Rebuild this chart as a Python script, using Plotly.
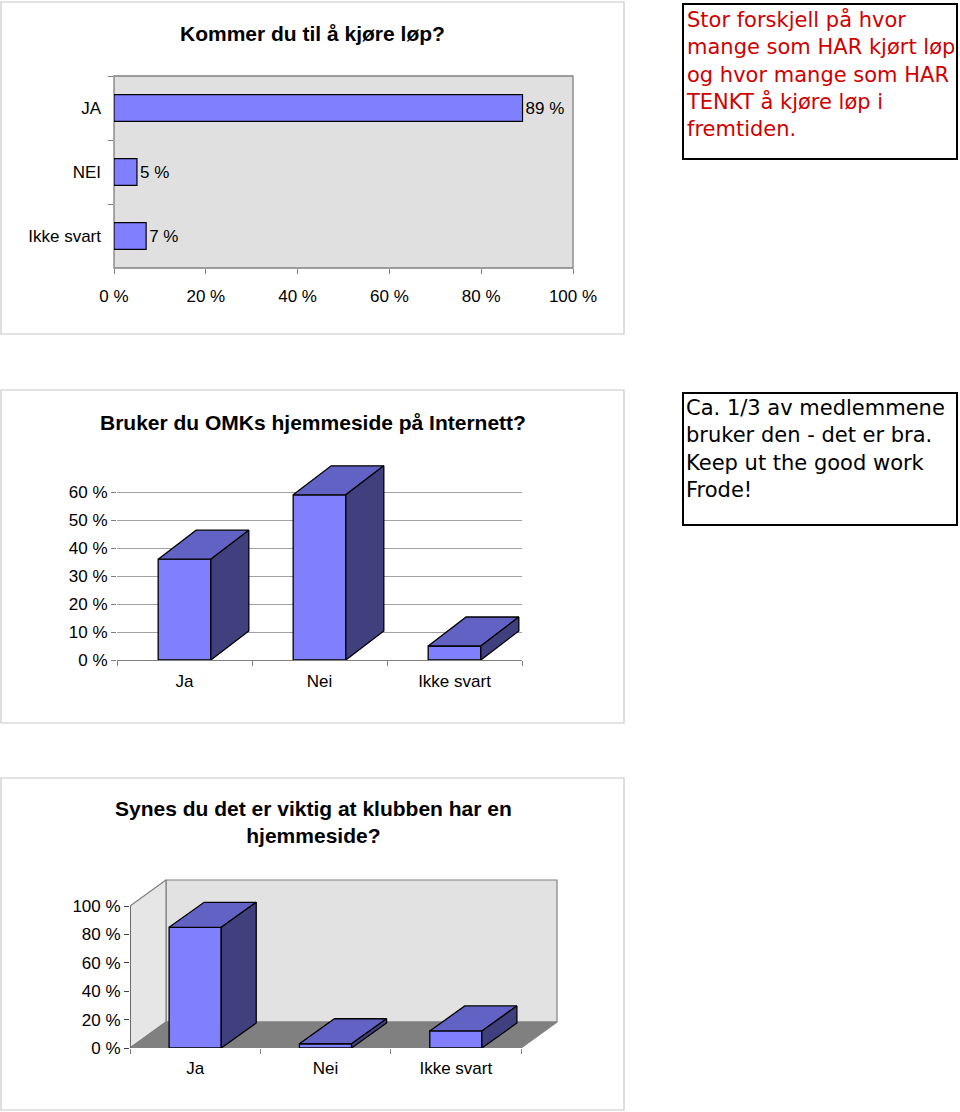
import plotly.graph_objects as go

# ---------------- data ----------------
q1_title = "Kommer du til å kjøre løp?"
q1_categories = ["JA", "NEI", "Ikke svart"]
q1_values = [89, 5, 7]

q2_title = "Bruker du OMKs hjemmeside på Internett?"
q2_categories = ["Ja", "Nei", "Ikke svart"]
q2_values = [36, 59, 5]

q3_title = "Synes du det er viktig at klubben har en<br>hjemmeside?"
q3_categories = ["Ja", "Nei", "Ikke svart"]
q3_values = [85, 3, 12]

pct_ticks_q1 = [0, 20, 40, 60, 80, 100]
pct_ticks_q2 = [0, 10, 20, 30, 40, 50, 60]
pct_ticks_q3 = [0, 20, 40, 60, 80, 100]

note1 = ("Stor forskjell på hvor<br>mange som HAR kjørt løp<br>og hvor mange som HAR<br>"
         "TENKT å kjøre løp i<br>fremtiden.")
note2 = "Ca. 1/3 av medlemmene<br>bruker den - det er bra.<br>Keep ut the good work<br>Frode!"

# ---------------- style ----------------
W, H = 960, 1112
FONT = "Liberation Sans, Arial, sans-serif"
NOTE_FONT = "DejaVu Sans, Verdana, sans-serif"
FRONT = "#8080FF"
TOP = "#6262C4"
SIDE = "#40407F"
EDGE = "#000000"


def px(x):
    return x / W


def py(y):
    return 1 - y / H


def pct_text(v):
    return [f"{t} %" for t in v]


fig = go.Figure()

# ---------- chart 1 : horizontal bars ----------
fig.add_trace(go.Bar(
    x=q1_values, y=q1_categories, orientation="h",
    marker=dict(color=FRONT, line=dict(color=EDGE, width=1.2)),
    width=0.42,
    text=[f"{v} %" for v in q1_values], textposition="outside",
    textfont=dict(family=FONT, size=17, color="black"),
    cliponaxis=False, xaxis="x", yaxis="y", showlegend=False, hoverinfo="skip",
))


# ---------- 3D bar helper ----------
def add_3d_bars(values, xa, ya, half_w, ddx, ddy):
    for i, v in enumerate(values):
        c = i + 0.5
        l, r = c - half_w, c + half_w
        faces = [
            ([l, r, r, l, l], [0, 0, v, v, 0], FRONT),
            ([l, r, r + ddx, l + ddx, l], [v, v, v + ddy, v + ddy, v], TOP),
            ([r, r + ddx, r + ddx, r, r], [0, ddy, v + ddy, v, 0], SIDE),
        ]
        for fx, fy, col in faces:
            fig.add_trace(go.Scatter(
                x=fx, y=fy, mode="lines", fill="toself", fillcolor=col,
                line=dict(color=EDGE, width=1.3), xaxis=xa, yaxis=ya,
                showlegend=False, hoverinfo="skip",
            ))


# ---------- chart 2 ----------
c2_px_cat = (522 - 117) / 3
c2_px_pct = 2.8
add_3d_bars(q2_values, "x2", "y2", 0.195, 38 / c2_px_cat, 29 / c2_px_pct)

# ---------- chart 3 : walls + bars ----------
c3_px_cat = (521 - 130) / 3
c3_px_pct = 1.42
wdx, wdy = 36 / c3_px_cat, 26 / c3_px_pct
n3 = len(q3_values)
top3 = pct_ticks_q3[-1]
walls = [
    ([wdx, n3 + wdx, n3 + wdx, wdx, wdx], [wdy, wdy, top3 + wdy, top3 + wdy, wdy], "#E2E2E2", "#808080"),
    ([0, wdx, wdx, 0, 0], [0, wdy, top3 + wdy, top3, 0], "#E6E6E6", "#808080"),
    ([0, n3, n3 + wdx, wdx, 0], [0, 0, wdy, wdy, 0], "#808080", "#808080"),
]
for fx, fy, col, lc in walls:
    fig.add_trace(go.Scatter(
        x=fx, y=fy, mode="lines", fill="toself", fillcolor=col,
        line=dict(color=lc, width=1.2), xaxis="x3", yaxis="y3",
        showlegend=False, hoverinfo="skip",
    ))
# y axis line of chart 3
fig.add_trace(go.Scatter(
    x=[0, 0], y=[0, top3], mode="lines", line=dict(color="#404040", width=1.2),
    xaxis="x3", yaxis="y3", showlegend=False, hoverinfo="skip",
))
add_3d_bars(q3_values, "x3", "y3", 0.2, 35 / c3_px_cat, 25 / c3_px_pct)

# ---------------- layout ----------------
tickfont = dict(family=FONT, size=17, color="black")
shapes = []
for (x0, y0, x1, y1) in [(1, 2, 624, 334), (1, 390, 624, 723), (1, 778, 624, 1110)]:
    shapes.append(dict(type="rect", xref="paper", yref="paper",
                       x0=px(x0), x1=px(x1), y0=py(y1), y1=py(y0),
                       line=dict(color="#C8C8C8", width=1.2), fillcolor="rgba(0,0,0,0)",
                       layer="below"))
# chart 1 plot area background
shapes.append(dict(type="rect", xref="x domain", yref="y domain", x0=0, x1=1, y0=0, y1=1,
                   fillcolor="#E0E0E0", line=dict(color="#808080", width=1.3), layer="below"))

annotations = [
    dict(text=f"<b>{q1_title}</b>", x=px(312), y=py(33), xref="paper", yref="paper",
         xanchor="center", yanchor="middle",
         showarrow=False, font=dict(family=FONT, size=21, color="black")),
    dict(text=f"<b>{q2_title}</b>", x=px(313), y=py(423), xref="paper", yref="paper",
         xanchor="center", yanchor="middle",
         showarrow=False, font=dict(family=FONT, size=21, color="black")),
    dict(text=f"<b>{q3_title}</b>", x=px(313), y=py(822), xref="paper", yref="paper",
         xanchor="center", yanchor="middle",
         showarrow=False, font=dict(family=FONT, size=21, color="black")),
    dict(text=note1, x=px(682), y=py(3), xref="paper", yref="paper", xanchor="left", yanchor="top",
         showarrow=False, align="left", valign="top", width=268, height=149,
         bordercolor="black", borderwidth=2, borderpad=2, bgcolor="white",
         font=dict(family=NOTE_FONT, size=21, color="#D00000")),
    dict(text=note2, x=px(682), y=py(392), xref="paper", yref="paper", xanchor="left", yanchor="top",
         showarrow=False, align="left", valign="top", width=268, height=126,
         bordercolor="black", borderwidth=2, borderpad=2, bgcolor="white",
         font=dict(family=NOTE_FONT, size=21, color="black")),
]

common = dict(automargin=False, fixedrange=True, zeroline=False)
fig.update_layout(
    width=W, height=H, margin=dict(l=0, r=0, t=0, b=0, autoexpand=False),
    paper_bgcolor="white", plot_bgcolor="rgba(0,0,0,0)",
    showlegend=False, shapes=shapes, annotations=annotations,
    font=dict(family=FONT, size=17, color="black"),
    xaxis=dict(domain=[px(114), px(573)], range=[0, 100], anchor="y",
               tickvals=pct_ticks_q1, ticktext=pct_text(pct_ticks_q1),
               ticks="outside", ticklen=5, tickcolor="#808080", showgrid=False,
               showline=False, tickfont=tickfont, ticklabelstandoff=8, **common),
    yaxis=dict(domain=[py(268), py(76)], anchor="x", type="category",
               categoryorder="array", categoryarray=q1_categories, autorange="reversed",
               tickson="boundaries", ticks="outside", ticklen=5, tickcolor="#808080",
               showgrid=False, showline=False, tickfont=tickfont,
               ticklabelstandoff=12, **common),
    xaxis2=dict(domain=[px(117), px(522)], range=[0, 3], anchor="y2",
                tickvals=[0.5, 1.5, 2.5], ticktext=q2_categories, ticks="outside", ticklen=0,
                minor=dict(tickvals=[0, 1, 2, 3], ticks="outside", ticklen=5, tickcolor="#808080"),
                showline=True, linecolor="#808080", linewidth=1.2, showgrid=False,
                tickfont=tickfont, ticklabelstandoff=5, **common),
    yaxis2=dict(domain=[py(660), py(660 - 70 * c2_px_pct)], range=[0, 70], anchor="x2",
                tickvals=pct_ticks_q2, ticktext=pct_text(pct_ticks_q2),
                ticks="outside", ticklen=5, tickcolor="#808080",
                showgrid=True, gridcolor="#A0A0A0", gridwidth=1, showline=False,
                tickfont=tickfont, ticklabelstandoff=0, **common),
    xaxis3=dict(domain=[px(130), px(130 + 3.3 * c3_px_cat)], range=[0, 3.3], anchor="y3",
                tickvals=[0.5, 1.5, 2.5], ticktext=q3_categories, ticks="outside", ticklen=0,
                minor=dict(tickvals=[0, 1, 2, 3], ticks="outside", ticklen=5, tickcolor="#808080"),
                showline=False, showgrid=False,
                tickfont=tickfont, ticklabelstandoff=5, **common),
    yaxis3=dict(domain=[py(1048), py(1048 - 120 * c3_px_pct)], range=[0, 120], anchor="x3",
                tickvals=pct_ticks_q3, ticktext=pct_text(pct_ticks_q3),
                ticks="outside", ticklen=5, tickcolor="#404040",
                showgrid=False, showline=False,
                tickfont=tickfont, ticklabelstandoff=0, **common),
)

fig.write_html("out.html", config={"displayModeBar": False},
               post_script="document.body.style.margin='0px';")
